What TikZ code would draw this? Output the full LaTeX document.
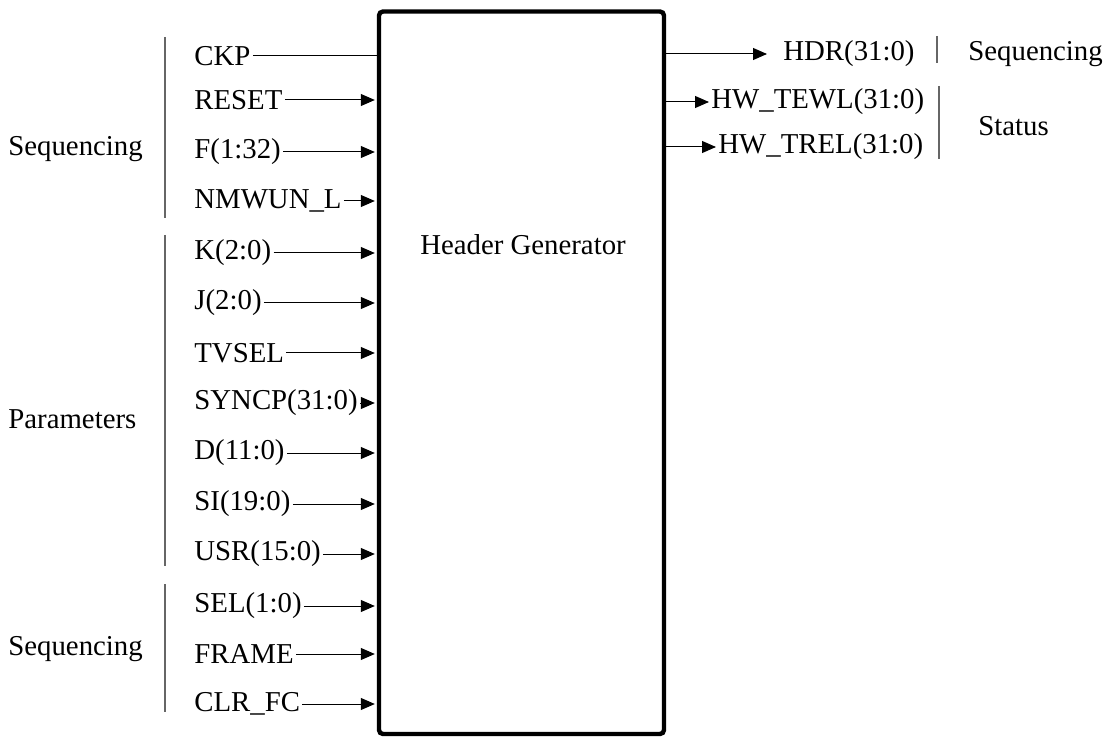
\documentclass[tikz,border=0pt]{standalone}
\usepackage{fontspec}
\setmainfont{Liberation Serif}
\usetikzlibrary{arrows.meta,positioning,calc}

\begin{document}
\begin{tikzpicture}[x=0.5pt,y=-0.5pt,>={Triangle[length=7pt,width=6pt]},
  font=\fontsize{14.4}{17}\selectfont,
  sig/.style={inner sep=1pt,anchor=west},
  grp/.style={inner sep=0pt,anchor=west},
  grpline/.style={draw=black!60,line width=0.6pt}]
  \useasboundingbox (0,0) rectangle (1105,738);
  % block
  \node (gen) [draw,line width=2.2pt,rounded corners=2pt,inner sep=0pt,
    minimum width=142.5pt,minimum height=361.25pt] at (521.5,372.75) {};
  \node (title) at (523,245) {Header Generator};
  % inputs
  \node[sig] (ckp) at (192,56) {CKP};
  \node[sig] (reset) at (192,100) {RESET};
  \node[sig] (f) at (192,152) {F(1:32)};
  \node[sig] (nmwun) at (192,201) {NMWUN\_L};
  \node[sig] (k) at (192,253) {K(2:0)};
  \node[sig] (j) at (192,303) {J(2:0)};
  \node[sig] (tvsel) at (192,353) {TVSEL};
  \node[sig] (syncp) at (192,403) {SYNCP(31:0)};
  \node[sig] (d) at (192,453) {D(11:0)};
  \node[sig] (si) at (192,504) {SI(19:0)};
  \node[sig] (usr) at (192,554) {USR(15:0)};
  \node[sig] (sel) at (192,606) {SEL(1:0)};
  \node[sig] (frame) at (192,654) {FRAME};
  \node[sig] (clrfc) at (192,704) {CLR\_FC};
  \draw[line width=0.5pt] (ckp.east) -- (ckp -| gen.west);
  \draw[->,line width=0.5pt,shorten >=1pt] (reset.east) -- (reset -| gen.west);
  \draw[->,line width=0.5pt,shorten >=1pt] (f.east) -- (f -| gen.west);
  \draw[->,line width=0.5pt,shorten >=1pt] (nmwun.east) -- (nmwun -| gen.west);
  \draw[->,line width=0.5pt,shorten >=1pt] (k.east) -- (k -| gen.west);
  \draw[->,line width=0.5pt,shorten >=1pt] (j.east) -- (j -| gen.west);
  \draw[->,line width=0.5pt,shorten >=1pt] (tvsel.east) -- (tvsel -| gen.west);
  \draw[->,line width=0.5pt,shorten >=1pt] (syncp.east) -- (syncp -| gen.west);
  \draw[->,line width=0.5pt,shorten >=1pt] (d.east) -- (d -| gen.west);
  \draw[->,line width=0.5pt,shorten >=1pt] (si.east) -- (si -| gen.west);
  \draw[->,line width=0.5pt,shorten >=1pt] (usr.east) -- (usr -| gen.west);
  \draw[->,line width=0.5pt,shorten >=1pt] (sel.east) -- (sel -| gen.west);
  \draw[->,line width=0.5pt,shorten >=1pt] (frame.east) -- (frame -| gen.west);
  \draw[->,line width=0.5pt,shorten >=1pt] (clrfc.east) -- (clrfc -| gen.west);
  % outputs
  \node[sig] (hdr) at (781,54) {HDR(31:0)};
  \node[sig] (tewl) at (709,102) {HW\_TEWL(31:0)};
  \node[sig] (trel) at (716,147) {HW\_TREL(31:0)};
  \draw[->,line width=0.5pt,shorten >=7pt] (hdr -| gen.east) -- (hdr.west);
  \draw[->,line width=0.5pt] (tewl -| gen.east) -- (tewl.west);
  \draw[->,line width=0.5pt] (trel -| gen.east) -- (trel.west);
  % groups
  \draw[grpline] (165,37) -- (165,218);
  \draw[grpline] (165,235) -- (165,566);
  \draw[grpline] (165,584) -- (165,712);
  \draw[grpline] (937,36) -- (937,63);
  \draw[grpline] (939,86) -- (939,159);
  \node[grp] (seqin) at (8,149) {Sequencing};
  \node[grp] (param) at (8,419) {Parameters};
  \node[grp] (seqsel) at (8,649) {Sequencing};
  \node[grp] (seqout) at (968,54) {Sequencing};
  \node[grp] (status) at (978,126) {Status};
\end{tikzpicture}
\end{document}
